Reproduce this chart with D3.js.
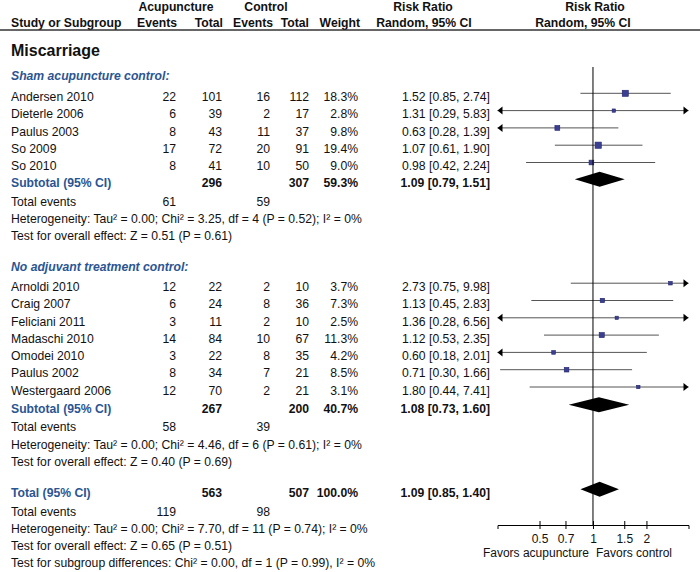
<!DOCTYPE html>
<meta charset="utf-8">
<style>
body{margin:0;background:#fff}
svg{display:block;background:#fff}
text{font-family:"Liberation Sans",Arial,sans-serif;font-size:12.2px;fill:#111}
.b{font-weight:bold}
.blue{fill:#2b5592}
.bi{font-weight:bold;font-style:italic;fill:#2b5592}
.ax text{font-size:12px}
</style>
<svg id="svg" width="700" height="572"></svg>
<script src="https://d3js.org/d3.v7.min.js"></script>
<script>

// sham acupuncture control
var shamStudies = ["Andersen 2010", "Dieterle 2006", "Paulus 2003", "So 2009", "So 2010"];
var shamAcuEvents = [22, 6, 8, 17, 8];
var shamAcuTotal = [101, 39, 43, 72, 41];
var shamCtrlEvents = [16, 2, 11, 20, 10];
var shamCtrlTotal = [112, 17, 37, 91, 50];
var shamWeight = [18.3, 2.8, 9.8, 19.4, 9.0];
var shamRR = [1.52, 1.31, 0.63, 1.07, 0.98];
var shamLo = [0.85, 0.29, 0.28, 0.61, 0.42];
var shamHi = [2.74, 5.83, 1.39, 1.90, 2.24];

// no adjuvant treatment control
var noadjStudies = ["Arnoldi 2010", "Craig 2007", "Feliciani 2011", "Madaschi 2010", "Omodei 2010", "Paulus 2002", "Westergaard 2006"];
var noadjAcuEvents = [12, 6, 3, 14, 3, 8, 12];
var noadjAcuTotal = [22, 24, 11, 84, 22, 34, 70];
var noadjCtrlEvents = [2, 8, 2, 10, 8, 7, 2];
var noadjCtrlTotal = [10, 36, 10, 67, 35, 21, 21];
var noadjWeight = [3.7, 7.3, 2.5, 11.3, 4.2, 8.5, 3.1];
var noadjRR = [2.73, 1.13, 1.36, 1.12, 0.60, 0.71, 1.80];
var noadjLo = [0.75, 0.45, 0.28, 0.53, 0.18, 0.30, 0.44];
var noadjHi = [9.98, 2.83, 6.56, 2.35, 2.01, 1.66, 7.41];

// pooled: sham, no adjuvant, total
var pooledLabel = ["Subtotal (95% CI)", "Subtotal (95% CI)", "Total (95% CI)"];
var pooledAcuTotal = [296, 267, 563];
var pooledCtrlTotal = [307, 200, 507];
var pooledWeight = ["59.3%", "40.7%", "100.0%"];
var pooledRR = [1.09, 1.08, 1.09];
var pooledLo = [0.79, 0.73, 0.85];
var pooledHi = [1.51, 1.60, 1.40];
var pooledAcuEvents = [61, 58, 119];
var pooledCtrlEvents = [59, 39, 98];
var pooledHet = [
  "Heterogeneity: Tau\u00b2 = 0.00; Chi\u00b2 = 3.25, df = 4 (P = 0.52); I\u00b2 = 0%",
  "Heterogeneity: Tau\u00b2 = 0.00; Chi\u00b2 = 4.46, df = 6 (P = 0.61); I\u00b2 = 0%",
  "Heterogeneity: Tau\u00b2 = 0.00; Chi\u00b2 = 7.70, df = 11 (P = 0.74); I\u00b2 = 0%"];
var pooledTest = [
  "Test for overall effect: Z = 0.51 (P = 0.61)",
  "Test for overall effect: Z = 0.40 (P = 0.69)",
  "Test for overall effect: Z = 0.65 (P = 0.51)"];
var subgroupTest = "Test for subgroup differences: Chi\u00b2 = 0.00, df = 1 (P = 0.99), I\u00b2 = 0%";

var tickValues = [0.5, 0.7, 1, 1.5, 2];

var svg = d3.select("#svg");
var x = d3.scaleLog().domain([0.29, 3.45]).range([497.5, 688.5]);
var box = d3.scaleSqrt().domain([0, 20]).range([1.5, 6.3]);
var xmin = x.domain()[0], xmax = x.domain()[1];

var col = {ev1: 176, tot1: 222, ev2: 270, tot2: 309, wt: 358, rr: 490};
var step = 17.3, markOff = 7.7;
var fmt = d3.format(".2f");

function txt(x0, y, s, anchor, cls) {
  return svg.append("text").attr("x", x0).attr("y", y)
    .attr("text-anchor", anchor || "start").attr("class", cls || "").text(s);
}
function rrText(rr, lo, hi) { return fmt(rr) + " [" + fmt(lo) + ", " + fmt(hi) + "]"; }

// header
txt(176, 11, "Acupuncture", "middle", "b");
txt(266, 11, "Control", "middle", "b");
txt(423, 11, "Risk Ratio", "middle", "b");
txt(595, 11, "Risk Ratio", "middle", "b");
txt(11, 27, "Study or Subgroup", "start", "b");
txt(177, 27, "Events", "end", "b");
txt(223, 27, "Total", "end", "b");
txt(273, 27, "Events", "end", "b");
txt(309, 27, "Total", "end", "b");
txt(360, 27, "Weight", "end", "b");
txt(424, 27, "Random, 95% CI", "middle", "b");
txt(583, 27, "Random, 95% CI", "middle", "b");
svg.append("line").attr("x1", 0).attr("x2", 700).attr("y1", 30).attr("y2", 30)
  .attr("stroke", "#333").attr("stroke-width", 1.5);

txt(11, 56, "Miscarriage", "start", "b").style("font-size", "16px");

var plot = svg.append("g");

function studyRow(y, name, e1, t1, e2, t2, w, rr, lo, hi) {
  txt(11, y, name);
  txt(col.ev1, y, e1, "end");
  txt(col.tot1, y, t1, "end");
  txt(col.ev2, y, e2, "end");
  txt(col.tot2, y, t2, "end");
  txt(col.wt, y, d3.format(".1f")(w) + "%", "end");
  txt(col.rr, y, rrText(rr, lo, hi), "end");
  var cy = y - markOff;
  var x1 = x(Math.max(lo, xmin)), x2 = x(Math.min(hi, xmax));
  plot.append("line").attr("x1", x1).attr("x2", x2).attr("y1", cy).attr("y2", cy)
    .attr("stroke", "#555").attr("stroke-width", 1);
  if (lo <= xmin) {
    plot.append("path").attr("d", "M" + x1 + "," + cy + "l5,-4l0,8z").attr("fill", "#000");
  }
  if (hi >= xmax) {
    plot.append("path").attr("d", "M" + x2 + "," + cy + "l-5,-4l0,8z").attr("fill", "#000");
  }
  var s = box(w);
  plot.append("rect").attr("x", x(rr) - s / 2).attr("y", cy - s / 2)
    .attr("width", s).attr("height", s)
    .attr("fill", "#3b3f91").attr("stroke", "#23256b").attr("stroke-width", 0.6);
}

function pooledRow(y, i, gap) {
  txt(11, y, pooledLabel[i], "start", "b blue");
  txt(col.tot1, y, pooledAcuTotal[i], "end", "b");
  txt(col.tot2, y, pooledCtrlTotal[i], "end", "b");
  txt(col.wt, y, pooledWeight[i], "end", "b");
  txt(col.rr, y, rrText(pooledRR[i], pooledLo[i], pooledHi[i]), "end", "b");
  var cy = y - markOff;
  plot.append("path")
    .attr("d", "M" + x(pooledLo[i]) + "," + cy + "L" + x(pooledRR[i]) + "," + (cy - 7.5) +
      "L" + x(pooledHi[i]) + "," + cy + "L" + x(pooledRR[i]) + "," + (cy + 7.5) + "Z")
    .attr("fill", "#000");
  y += gap + 1.5;
  txt(11, y, "Total events");
  txt(col.ev1, y, pooledAcuEvents[i], "end");
  txt(col.ev2, y, pooledCtrlEvents[i], "end");
  y += gap;
  txt(11, y, pooledHet[i]);
  y += gap;
  txt(11, y, pooledTest[i]);
  return y;
}

// sham group
var y = 80;
txt(11, y, "Sham acupuncture control:", "start", "bi");
y = 101;
shamStudies.forEach(function(n, i) {
  studyRow(y, n, shamAcuEvents[i], shamAcuTotal[i], shamCtrlEvents[i], shamCtrlTotal[i],
    shamWeight[i], shamRR[i], shamLo[i], shamHi[i]);
  y += step;
});
y = pooledRow(y - 0.5, 0, step);

// no adjuvant group
y += 31;
txt(11, y, "No adjuvant treatment control:", "start", "bi");
y += 19.5;
noadjStudies.forEach(function(n, i) {
  studyRow(y, n, noadjAcuEvents[i], noadjAcuTotal[i], noadjCtrlEvents[i], noadjCtrlTotal[i],
    noadjWeight[i], noadjRR[i], noadjLo[i], noadjHi[i]);
  y += step;
});
y = pooledRow(y + 0.5, 1, step);

// overall
y += 31;
y = pooledRow(y, 2, 17.2);
y += 17.2;
txt(11, y, subgroupTest);

// line of no effect
plot.append("line").attr("x1", x(1)).attr("x2", x(1)).attr("y1", 67).attr("y2", 525)
  .attr("stroke", "#000").attr("stroke-width", 1);

// axis
var axis = d3.axisBottom(x).tickValues(tickValues).tickFormat(d3.format("")).tickSizeOuter(0).tickSize(4);
var ag = svg.append("g").attr("class", "ax").attr("transform", "translate(0,525)").call(axis);
ag.attr("font-family", null).attr("font-size", null);
ag.select(".domain").attr("stroke", "#000");
ag.selectAll(".tick line").attr("y1", -4).attr("y2", 4).attr("stroke", "#000");
ag.selectAll(".tick text").attr("y", 17.5).attr("dy", 0).style("fill", "#111");

txt(589, 557, "Favors acupuncture", "end").style("font-size", "12px");
txt(596, 557, "Favors control", "start").style("font-size", "12px");
</script>
